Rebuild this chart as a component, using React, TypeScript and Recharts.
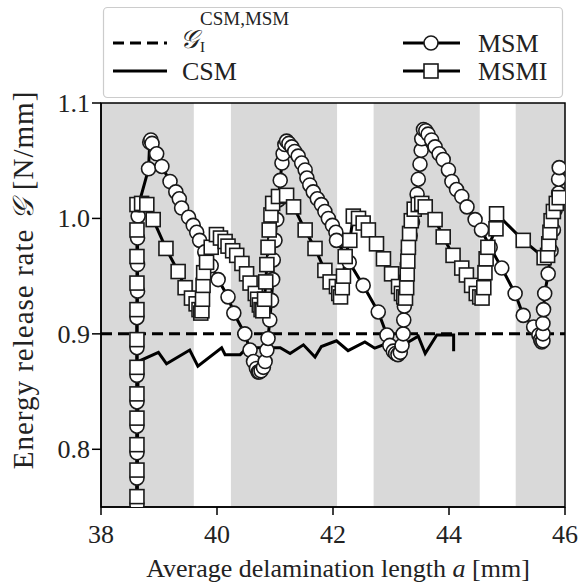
import React from 'react';
import { ComposedChart, Line, XAxis, YAxis, ReferenceArea } from 'recharts';

// crack length a [mm] / energy release rate G [N/mm]
const xTicks = [38, 40, 42, 44, 46];
const yTicks = [0.8, 0.9, 1.0, 1.1];

// grey regions along the delamination front
const shadedBands = [
  [38, 39.6],
  [40.24, 42.07],
  [42.7, 44.53],
  [45.15, 46],
];

const gcLevel = [
  { a: 38, g: 0.9 },
  { a: 46, g: 0.9 },
];

const csmA = [38.62, 38.64, 38.99, 39.13, 39.53, 39.67, 40.08, 40.14, 40.4, 40.52, 41.09, 41.26, 41.49, 41.69, 41.8, 42.06, 42.26, 42.55, 42.72, 42.95, 43.27, 43.47, 43.59, 43.79, 44.08, 44.08];
const csmG = [0.74, 0.876, 0.884, 0.874, 0.886, 0.872, 0.888, 0.882, 0.882, 0.888, 0.888, 0.883, 0.8905, 0.88, 0.889, 0.894, 0.8855, 0.893, 0.8876, 0.892, 0.892, 0.898, 0.883, 0.899, 0.899, 0.885];

const msmA = [
  38.62, 38.62, 38.62, 38.62, 38.62, 38.62, 38.62, 38.62, 38.63, 38.63, 38.63, 38.64, 38.65,
  38.82, 38.84, 38.86, 38.88, 38.96, 39.05, 39.19, 39.29, 39.35, 39.39, 39.51, 39.59, 39.65, 39.7,
  39.79, 39.9, 40.02, 40.19, 40.29, 40.48, 40.57, 40.63, 40.68, 40.71, 40.73, 40.76, 40.8, 40.83,
  40.86, 40.88, 40.91, 40.94, 40.96, 40.97, 41.0, 41.03, 41.06, 41.09, 41.12, 41.14, 41.17, 41.2,
  41.24, 41.29, 41.34, 41.4, 41.46, 41.52, 41.55, 41.6, 41.66, 41.73, 41.8, 41.86, 41.92, 41.99,
  42.05, 42.06, 42.28, 42.52, 42.78, 42.93, 42.98, 43.04, 43.08, 43.12, 43.16, 43.19, 43.21, 43.22,
  43.23, 43.24, 43.26, 43.28, 43.3, 43.33, 43.37, 43.41, 43.45, 43.47, 43.5, 43.52, 43.53, 43.56,
  43.6, 43.64, 43.7, 43.76, 43.83, 43.9, 43.99, 44.05, 44.13, 44.22, 44.31, 44.45, 44.56, 44.71,
  44.91, 45.14, 45.28, 45.46, 45.55, 45.58, 45.6, 45.62, 45.62, 45.62, 45.63, 45.65, 45.71, 45.76,
  45.8, 45.83, 45.89, 45.89, 45.9,
];
const msmG = [
  0.752, 0.775, 0.797, 0.82, 0.841, 0.864, 0.888, 0.914, 0.937, 0.96, 0.983, 1.002, 1.012,
  1.043, 1.066, 1.068, 1.065, 1.056, 1.045, 1.032, 1.023, 1.017, 1.009, 1.001, 0.994, 0.988, 0.981,
  0.971, 0.959, 0.947, 0.932, 0.918, 0.9, 0.886, 0.876, 0.87, 0.867, 0.867, 0.868, 0.871, 0.876,
  0.886, 0.896, 0.912, 0.929, 0.947, 0.964, 0.981, 0.999, 1.016, 1.033, 1.048, 1.056, 1.064, 1.067,
  1.065, 1.062, 1.058, 1.054, 1.048, 1.042, 1.035, 1.029, 1.023, 1.017, 1.012, 1.006, 1.0, 0.994,
  0.988, 0.981, 0.962, 0.942, 0.919, 0.899, 0.89, 0.885, 0.883, 0.882, 0.884, 0.89, 0.9, 0.912,
  0.924, 0.936, 0.948, 0.96, 0.972, 0.985, 0.997, 1.008, 1.021, 1.034, 1.047, 1.059, 1.069, 1.077,
  1.076, 1.073, 1.068, 1.062, 1.056, 1.051, 1.042, 1.032, 1.025, 1.019, 1.01, 0.999, 0.99, 0.975,
  0.957, 0.935, 0.916, 0.906, 0.899, 0.895, 0.893, 0.894, 0.9, 0.909, 0.921, 0.935, 0.952, 0.972,
  0.99, 1.007, 1.022, 1.034, 1.044,
];

const msmiA = [
  38.62, 38.62, 38.62, 38.62, 38.62, 38.62, 38.62, 38.62, 38.62, 38.62, 38.62, 38.62, 38.62,
  38.7, 38.79, 38.9, 39.12, 39.33, 39.45, 39.56, 39.64, 39.69, 39.72, 39.74, 39.75, 39.76, 39.77,
  39.82, 39.9, 39.99, 40.06, 40.14, 40.19, 40.27, 40.34, 40.43, 40.51, 40.57, 40.66, 40.7, 40.73,
  40.76, 40.79, 40.82, 40.84, 40.86, 40.88, 40.9, 40.93, 40.96, 41.06, 41.2, 41.32, 41.52, 41.69,
  41.86, 41.95, 42.06, 42.1, 42.13, 42.16, 42.18, 42.21, 42.29, 42.35, 42.44, 42.52, 42.61, 42.75,
  42.87, 43.01, 43.13, 43.18, 43.22, 43.25, 43.27, 43.28, 43.29, 43.3, 43.32, 43.35, 43.4, 43.47,
  43.53, 43.59, 43.76, 43.9, 44.07, 44.22, 44.3, 44.39, 44.47, 44.53, 44.57, 44.6, 44.62, 44.64,
  44.67, 44.81, 44.82, 45.28, 45.64, 45.7, 45.72, 45.74, 45.76, 45.8, 45.85, 45.9,
];
const msmiG = [
  0.737, 0.759, 0.782, 0.804, 0.827, 0.848, 0.871, 0.895, 0.921, 0.944, 0.967, 0.99, 1.012,
  1.013, 1.012, 0.999, 0.974, 0.954, 0.94, 0.931, 0.926, 0.921, 0.918, 0.92, 0.93, 0.942, 0.953,
  0.962, 0.975, 0.986, 0.983, 0.98, 0.976, 0.972, 0.968, 0.961, 0.952, 0.944, 0.935, 0.93, 0.925,
  0.921, 0.92, 0.93, 0.945, 0.96, 0.975, 0.99, 1.003, 1.013, 1.019, 1.02, 1.01, 0.99, 0.974,
  0.955, 0.945, 0.941, 0.935, 0.932, 0.94, 0.95, 0.967, 0.981, 1.002, 1.0, 0.996, 0.99, 0.978,
  0.965, 0.952, 0.941, 0.935, 0.932, 0.931, 0.94, 0.952, 0.963, 0.975, 0.987, 0.998, 1.008, 1.012,
  1.013, 1.01, 0.999, 0.984, 0.968, 0.957, 0.951, 0.942, 0.935, 0.932, 0.931, 0.94, 0.953, 0.965,
  0.975, 0.991, 1.004, 0.981, 0.966, 0.968, 0.978, 0.988, 0.998, 1.006, 1.013, 1.018,
];

const toRows = (xs: number[], ys: number[]) => xs.map((a, i) => ({ a, g: ys[i] }));

const csmData = toRows(csmA, csmG);
const msmData = toRows(msmA, msmG);
const msmiData = toRows(msmiA, msmiG);

const FONT = 'Liberation Serif, Times New Roman, DejaVu Serif, serif';
const INK = '#1a1a1a';
const txt = { fontFamily: FONT, fill: '#222' };

const CircleDot = (props: any) => {
  const { cx, cy, index } = props;
  if (cx == null || cy == null) return null;
  return <circle key={`c-${index}`} cx={cx} cy={cy} r={7} fill="#fff" stroke={INK} strokeWidth={1.6} />;
};

const SquareDot = (props: any) => {
  const { cx, cy, index } = props;
  if (cx == null || cy == null) return null;
  return <rect key={`s-${index}`} x={cx - 7} y={cy - 7} width={14} height={14} fill="#fff" stroke={INK} strokeWidth={1.6} />;
};

const XTick = (props: any) => {
  const { x, y, payload } = props;
  return (
    <text x={x} y={y + 26} textAnchor="middle" fontSize={26} style={txt}>
      {payload.value}
    </text>
  );
};

const YTick = (props: any) => {
  const { x, y, payload } = props;
  return (
    <text x={x} y={y + 9} textAnchor="end" fontSize={26} style={txt}>
      {Number(payload.value).toFixed(1)}
    </text>
  );
};

const Overlay = () => (
  <svg width={579} height={587} style={{ position: 'absolute', left: 0, top: 0, pointerEvents: 'none' }}>
    {/* legend */}
    <rect x={103.5} y={7.5} width={459} height={90} rx={4} fill="#fff" fillOpacity={0.85} stroke="#cccccc" strokeWidth={1.2} />
    <line x1={113} y1={43} x2={167} y2={43} stroke="#000" strokeWidth={3} strokeDasharray="11 6" />
    <text x={180} y={48} fontSize={26} style={txt}>
      <tspan fontStyle="italic">𝒢</tspan>
      <tspan dx={1} dy={4} fontSize={15}>I</tspan>
    </text>
    <text x={200} y={25} fontSize={19} style={txt}>CSM,MSM</text>
    <line x1={113} y1={71} x2={167} y2={71} stroke="#000" strokeWidth={3} />
    <text x={182} y={80} fontSize={26} style={txt}>CSM</text>
    <line x1={403} y1={43} x2={460} y2={43} stroke="#000" strokeWidth={3} />
    <circle cx={431} cy={43} r={7} fill="#fff" stroke={INK} strokeWidth={1.6} />
    <text x={478} y={52} fontSize={26} style={txt}>MSM</text>
    <line x1={403} y1={71} x2={460} y2={71} stroke="#000" strokeWidth={3} />
    <rect x={424} y={64} width={14} height={14} fill="#fff" stroke={INK} strokeWidth={1.6} />
    <text x={478} y={80} fontSize={26} style={txt}>MSMI</text>

    {/* axis titles */}
    <text x={338} y={577} textAnchor="middle" fontSize={26} style={txt}>
      Average delamination length <tspan fontStyle="italic">a</tspan> [mm]
    </text>
    <text
      x={0}
      y={0}
      transform="translate(33 280) rotate(-90)"
      textAnchor="middle"
      fontSize={29}
      letterSpacing={1}
      style={txt}
    >
      Energy release rate <tspan fontStyle="italic">𝒢</tspan> [N/mm]
    </text>
  </svg>
);

export default function App() {
  return (
    <div style={{ position: 'absolute', left: 0, top: 0, width: 579, height: 587, background: '#fff' }}>
      <ComposedChart width={579} height={587} margin={{ top: 103, right: 14, bottom: 30, left: 41 }}>
        <XAxis
          dataKey="a"
          type="number"
          domain={[38, 46]}
          ticks={xTicks}
          allowDataOverflow
          height={50}
          tickSize={8}
          tick={<XTick />}
          axisLine={{ stroke: '#000', strokeWidth: 1.5 }}
          tickLine={{ stroke: '#000', strokeWidth: 1.5 }}
        />
        <YAxis
          dataKey="g"
          type="number"
          domain={[0.75, 1.1]}
          ticks={yTicks}
          allowDataOverflow
          width={60}
          tickSize={9}
          tick={<YTick />}
          axisLine={{ stroke: '#000', strokeWidth: 1.5 }}
          tickLine={{ stroke: '#000', strokeWidth: 1.5 }}
        />
        {shadedBands.map(([x1, x2], i) => (
          <ReferenceArea key={`band-${i}`} x1={x1} x2={x2} y1={0.75} y2={1.1} fill="#d9d9d9" fillOpacity={1} stroke="none" ifOverflow="hidden" />
        ))}
        <ReferenceArea x1={38} x2={46} y1={0.75} y2={1.1} fill="none" stroke="#000" strokeWidth={1.5} />
        <Line data={gcLevel} dataKey="g" stroke="#000" strokeWidth={3} strokeDasharray="11 6" dot={false} isAnimationActive={false} />
        <Line data={csmData} dataKey="g" stroke="#000" strokeWidth={3} dot={false} isAnimationActive={false} />
        <Line data={msmData} dataKey="g" stroke="#000" strokeWidth={3} dot={<CircleDot />} isAnimationActive={false} />
        <Line data={msmiData} dataKey="g" stroke="#000" strokeWidth={3} dot={<SquareDot />} isAnimationActive={false} />
      </ComposedChart>
      <Overlay />
    </div>
  );
}
